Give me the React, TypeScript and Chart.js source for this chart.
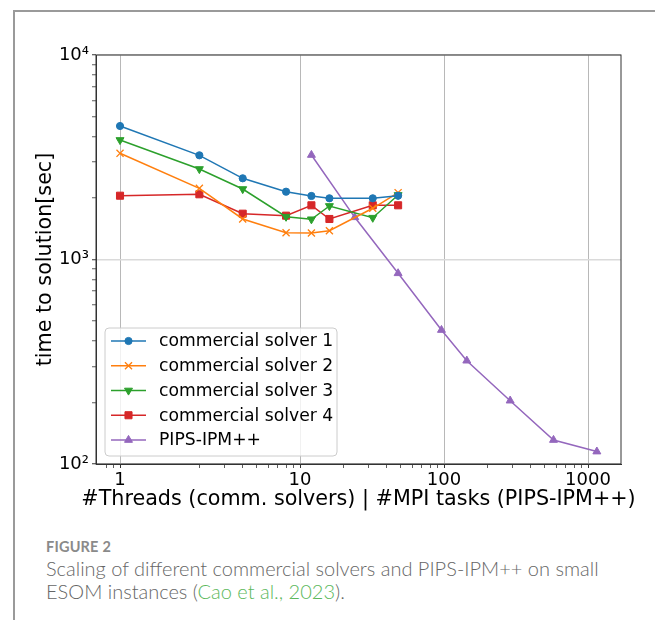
import React, { useEffect, useRef } from 'react';
import { Chart, registerables, LogarithmicScale } from 'chart.js';
import { drawPoint } from 'chart.js/helpers';

// ---------------- data ----------------
const threads = [1, 2, 4, 8, 12, 16, 32, 48];
const solver1 = [4495, 3232, 2495, 2146, 2045, 1992, 1992, 2051];
const solver2 = [3306, 2229, 1578, 1352, 1348, 1383, 1780, 2122];
const solver3 = [3841, 2770, 2211, 1619, 1573, 1827, 1601, 2068];
const solver4 = [2051, 2084, 1675, 1638, 1841, 1578, 1841, 1841];
const mpiTasks = [12, 24, 48, 96, 144, 288, 576, 1152];
const pips = [3243, 1608, 856, 452, 320, 204, 131, 115];

const seriesNames = ['commercial solver 1', 'commercial solver 2', 'commercial solver 3', 'commercial solver 4', 'PIPS-IPM++'];
const xMajorTicks = [1, 10, 100, 1000];
const xMinorTicks = [0.8, 0.9, 2, 3, 4, 5, 6, 7, 8, 9, 20, 30, 40, 50, 60, 70, 80, 90, 200, 300, 400, 500, 600, 700, 800, 900];
const yMajorTicks = [100, 1000, 10000];
const yMinorTicks = [200, 300, 400, 500, 600, 700, 800, 900, 2000, 3000, 4000, 5000, 6000, 7000, 8000, 9000];
const yTickLabels: Record<number, string> = { 100: '10²', 1000: '10³', 10000: '10⁴' };
const xTitle = '#Threads (comm. solvers) | #MPI tasks (PIPS-IPM++)';
const yTitle = 'time to solution[sec]';

// ---------------- broken log axis (decade 1..2 stretched as in the original) ----------------
const SHIFT = Math.pow(10, -0.25);
const L2 = Math.log10(2);
function warp(v: number): number {
  if (v <= 1) return v * SHIFT;
  if (v >= 2) return v;
  const t = Math.log10(v) / L2;
  return Math.pow(10, Math.log10(SHIFT) + t * (L2 - Math.log10(SHIFT)));
}
function unwarp(w: number): number {
  if (w <= SHIFT) return w / SHIFT;
  if (w >= 2) return w;
  const t = (Math.log10(w) - Math.log10(SHIFT)) / (L2 - Math.log10(SHIFT));
  return Math.pow(10, t * L2);
}

class WarpLogScale extends (LogarithmicScale as any) {
  static id = 'warplog';
  static defaults = (LogarithmicScale as any).defaults;
  getPixelForValue(value: number) {
    return super.getPixelForValue(warp(value));
  }
  getValueForPixel(pixel: number) {
    return unwarp(super.getValueForPixel(pixel));
  }
}

Chart.register(...registerables, WarpLogScale as any);

const FONT = "'DejaVu Sans', sans-serif";
const colors = ['#1f77b4', '#ff7f0e', '#2ca02c', '#d62728', '#9467bd'];
const styles: any[] = [
  { pointStyle: 'circle', pointRadius: 3.6, rotation: 0, bw: 1 },
  { pointStyle: 'crossRot', pointRadius: 5, rotation: 0, bw: 1.3 },
  { pointStyle: 'triangle', pointRadius: 4.6, rotation: 180, bw: 1 },
  { pointStyle: 'rect', pointRadius: 5, rotation: 0, bw: 1 },
  { pointStyle: 'triangle', pointRadius: 4.6, rotation: 0, bw: 1 },
];

const framePlugin = {
  id: 'frame',
  afterDatasetsDraw(chart: any) {
    const { ctx, chartArea: a } = chart;
    ctx.save();
    ctx.strokeStyle = '#333';
    ctx.lineWidth = 1;
    ctx.strokeRect(a.left, a.top, a.right - a.left, a.bottom - a.top);
    ctx.restore();
  },
};

// axis titles (drawn without Chart.js' maxWidth squeeze, which would compress the long x title)
const axisTitlePlugin = {
  id: 'axisTitles',
  afterDraw(chart: any) {
    const { ctx, chartArea: a } = chart;
    ctx.save();
    ctx.fillStyle = '#000';
    ctx.font = `20.7px ${FONT}`;
    ctx.textAlign = 'center';
    ctx.textBaseline = 'middle';
    ctx.fillText(xTitle, (a.left + a.right) / 2, 500);
    ctx.translate(46, (a.top + a.bottom) / 2);
    ctx.rotate(-Math.PI / 2);
    ctx.fillText(yTitle, 0, 0);
    ctx.restore();
  },
};

const legendPlugin = {
  id: 'mplLegend',
  afterDraw(chart: any) {
    const { ctx } = chart;
    const bx = 105, by = 328, bw = 232, bh = 128, r = 4;
    ctx.save();
    ctx.beginPath();
    ctx.moveTo(bx + r, by);
    ctx.arcTo(bx + bw, by, bx + bw, by + bh, r);
    ctx.arcTo(bx + bw, by + bh, bx, by + bh, r);
    ctx.arcTo(bx, by + bh, bx, by, r);
    ctx.arcTo(bx, by, bx + bw, by, r);
    ctx.closePath();
    ctx.fillStyle = 'rgba(255,255,255,0.8)';
    ctx.fill();
    ctx.strokeStyle = '#cccccc';
    ctx.lineWidth = 1;
    ctx.stroke();
    chart.data.datasets.forEach((ds: any, i: number) => {
      const y = 341 + i * 24.75;
      ctx.strokeStyle = ds.borderColor;
      ctx.lineWidth = 1.5;
      ctx.beginPath();
      ctx.moveTo(111, y);
      ctx.lineTo(146, y);
      ctx.stroke();
      ctx.fillStyle = ds.borderColor;
      ctx.strokeStyle = ds.borderColor;
      ctx.lineWidth = styles[i].bw;
      drawPoint(ctx, { pointStyle: ds.pointStyle, radius: ds.pointRadius, rotation: ds.pointRotation, borderWidth: styles[i].bw } as any, 128.5, y);
      ctx.fillStyle = '#000';
      ctx.font = `17.2px ${FONT}`;
      ctx.textBaseline = 'middle';
      ctx.textAlign = 'left';
      ctx.fillText(ds.label, 159, y + 1);
    });
    ctx.restore();
  },
};

export default function App() {
  const ref = useRef<HTMLCanvasElement>(null);

  useEffect(() => {
    if (!ref.current) return;
    const seriesX = [threads, threads, threads, threads, mpiTasks];
    const seriesY = [solver1, solver2, solver3, solver4, pips];
    const datasets = seriesNames.map((name, i) => ({
      label: name,
      data: seriesX[i].map((x, j) => ({ x, y: seriesY[i][j] })),
      borderColor: colors[i],
      backgroundColor: colors[i],
      borderWidth: 1.5,
      pointStyle: styles[i].pointStyle,
      pointRadius: styles[i].pointRadius,
      pointRotation: styles[i].rotation,
      pointBorderWidth: styles[i].bw,
      pointBackgroundColor: colors[i],
      pointBorderColor: colors[i],
      tension: 0,
      fill: false,
    }));

    const xAll = [...xMajorTicks, ...xMinorTicks].sort((a, b) => a - b);
    const yAll = [...yMajorTicks, ...yMinorTicks].sort((a, b) => a - b);

    const chart = new Chart(ref.current, {
      type: 'line',
      data: { datasets },
      options: {
        animation: false,
        responsive: false,
        devicePixelRatio: 1,
        layout: { padding: { top: 55, right: 34, left: 0, bottom: 0 } },
        plugins: { legend: { display: false }, tooltip: { enabled: false } },
        scales: {
          x: {
            type: 'warplog' as any,
            min: 0.383,
            max: 1695,
            afterBuildTicks: (s: any) => { s.ticks = xAll.map((v) => ({ value: v, major: xMajorTicks.includes(v) })); },
            afterFit: (s: any) => { s.height = 56; },
            ticks: {
              autoSkip: false,
              maxRotation: 0,
              padding: 2,
              color: '#000',
              font: { family: FONT, size: 18 },
              callback: (v: any) => (xMajorTicks.includes(Number(v)) ? String(v) : ''),
            },
            grid: {
              color: (c: any) => (c.tick && xMajorTicks.includes(c.tick.value) ? '#b8b8b8' : 'rgba(0,0,0,0)'),
              tickColor: '#333',
              tickLength: 4,
              tickWidth: (c: any) => (c.tick && xMajorTicks.includes(c.tick.value) ? 1 : 0.8),
              lineWidth: 1,
            },
            border: { display: true, color: '#333', width: 1 },
            title: { display: false, text: xTitle },
          } as any,
          y: {
            type: 'logarithmic',
            min: 100,
            max: 10000,
            afterBuildTicks: (s: any) => { s.ticks = yAll.map((v) => ({ value: v, major: yMajorTicks.includes(v) })); },
            afterFit: (s: any) => { s.width = 96; },
            ticks: {
              autoSkip: false,
              padding: 3,
              color: '#000',
              font: { family: FONT, size: 18 },
              callback: (v: any) => yTickLabels[Number(v)] ?? '',
            },
            grid: {
              color: (c: any) => (c.tick && yMajorTicks.includes(c.tick.value) ? '#dadada' : 'rgba(0,0,0,0)'),
              tickColor: '#333',
              tickLength: 4,
              tickWidth: (c: any) => (c.tick && yMajorTicks.includes(c.tick.value) ? 1 : 0.8),
              lineWidth: 1.5,
            },
            border: { display: true, color: '#333', width: 1 },
            title: { display: false, text: yTitle },
          } as any,
        },
      },
      plugins: [framePlugin, axisTitlePlugin, legendPlugin],
    });
    return () => chart.destroy();
  }, []);

  return (
    <div style={{ position: 'absolute', left: 0, top: 0, width: 655, height: 620, background: '#fff', overflow: 'hidden' }}>
      <div style={{ position: 'absolute', left: 13, top: 10, width: 700, height: 700, borderLeft: '2px solid #9a9a9a', borderTop: '2px solid #9a9a9a' }} />
      <canvas ref={ref} width={655} height={520} style={{ position: 'absolute', left: 0, top: 0, width: 655, height: 520 }} />
      <div style={{ position: 'absolute', left: 46, top: 538, fontFamily: 'Lato, sans-serif', fontWeight: 700, fontSize: 14.5, lineHeight: '18px', color: '#8a8a8a', letterSpacing: 0.2 }}>
        FIGURE 2
      </div>
      <div style={{ position: 'absolute', left: 46, top: 557, width: 620, fontFamily: 'Lato, sans-serif', fontWeight: 300, fontSize: 20, lineHeight: '23px', color: '#666', whiteSpace: 'nowrap' }}>
        Scaling of different commercial solvers and PIPS-IPM++ on small
        <br />
        ESOM instances (<span style={{ color: '#5cb85c' }}>Cao et al., 2023</span>).
      </div>
    </div>
  );
}
